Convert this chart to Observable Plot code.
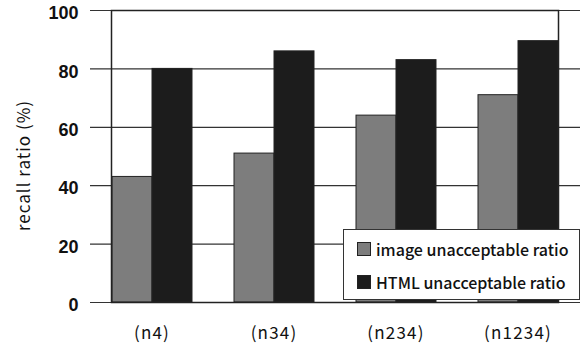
<!DOCTYPE html>
<html>
<head>
<meta charset="utf-8">
<script src="https://cdn.jsdelivr.net/npm/d3@7"></script>
<script src="https://cdn.jsdelivr.net/npm/@observablehq/plot@0.6"></script>
<style>
  html, body { margin: 0; padding: 0; background: #fff; }
  #wrap { position: relative; width: 582px; height: 354px; overflow: hidden; }
  #wrap svg { position: absolute; left: 0; top: 0; }
  #wrap g[aria-label="text"] text { letter-spacing: 1px; }
  #wrap g[aria-label="fx-axis tick label"] text { letter-spacing: 1.2px; }
  #legend {
    position: absolute; left: 343px; top: 229px; width: 235px; height: 69px;
    background: #fff; border: 1.5px solid #333;
    font-family: "Noto Sans CJK JP", "Noto Sans", sans-serif; font-size: 16px; font-weight: 500; color: #111;
  }
  .row { position: absolute; left: 13px; display: flex; align-items: center; white-space: nowrap; }
  .sw { width: 14px; height: 14px; border: 1px solid #222; box-sizing: border-box; margin-right: 5px; }
</style>
</head>
<body>
<div id="wrap"></div>
<script>
const categories = ["(n4)", "(n34)", "(n234)", "(n1234)"];
const seriesNames = ["image unacceptable ratio", "HTML unacceptable ratio"];
const imageValues = [43, 51, 64, 71];
const htmlValues = [80, 86, 83, 89.5];
const seriesColors = ["#7d7d7d", "#1c1c1c"];
const yTicks = [0, 20, 40, 60, 80, 100];
const yLabel = "recall ratio (%)";

const data = [];
categories.forEach((c, i) => {
  data.push({category: c, series: seriesNames[0], value: imageValues[i]});
  data.push({category: c, series: seriesNames[1], value: htmlValues[i]});
});

const font = "'Noto Sans CJK JP', 'Noto Sans', sans-serif";
const common = {
  width: 582,
  height: 354,
  marginLeft: 90,
  marginRight: 2,
  marginTop: 10,
  marginBottom: 52
};

// Background layer: grid and y axis
const back = Plot.plot({
  ...common,
  style: {fontFamily: font, fontSize: "15px", color: "#111", background: "#fff"},
  y: {domain: [0, 100], label: null, axis: null},
  marks: [
    Plot.gridY(yTicks, {stroke: "#333", strokeOpacity: 1, strokeWidth: 1.2}),
    Plot.axisY(yTicks, {tickSize: 0, tickPadding: 12, dy: 3, fontSize: 18, fontWeight: "bold",
      fontFamily: "'Liberation Sans', Arial, sans-serif", label: null}),
    Plot.text([yLabel], {frameAnchor: "left", textAnchor: "middle", dx: -66, dy: 9, rotate: -90, fontSize: 17})
  ]
});

// Foreground layer: grouped bars, frame and category axis
const front = Plot.plot({
  ...common,
  style: {fontFamily: font, fontSize: "15px", color: "#111", background: "transparent"},
  y: {domain: [0, 100], label: null, axis: null},
  fx: {domain: categories, paddingInner: 0.335, paddingOuter: 0.165, label: null},
  x: {domain: seriesNames, padding: 0, axis: null},
  color: {domain: seriesNames, range: seriesColors},
  marks: [
    Plot.barY(data, {fx: "category", x: "series", y: "value", fill: "series", stroke: "#222", strokeWidth: 1}),
    Plot.frame({stroke: "#222", strokeWidth: 1.5, facet: "super"}),
    Plot.axisFx({anchor: "bottom", tickSize: 0, tickPadding: 24, fontSize: 17, label: null})
  ]
});

const wrap = document.getElementById("wrap");
wrap.appendChild(back);
wrap.appendChild(front);

const legend = document.createElement("div");
legend.id = "legend";
seriesNames.forEach((name, i) => {
  const row = document.createElement("div");
  row.className = "row";
  row.style.top = (i === 0 ? 7 : 40) + "px";
  const sw = document.createElement("div");
  sw.className = "sw";
  sw.style.background = seriesColors[i];
  const t = document.createElement("span");
  t.textContent = name;
  row.appendChild(sw);
  row.appendChild(t);
  legend.appendChild(row);
});
wrap.appendChild(legend);
</script>
</body>
</html>
